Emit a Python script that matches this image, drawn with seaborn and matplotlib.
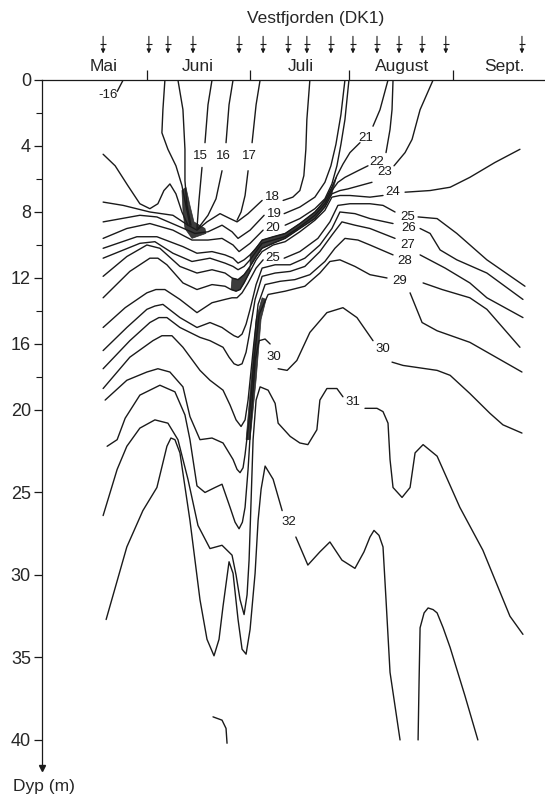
import pandas as pd
import seaborn as sns
import matplotlib.pyplot as plt

# Vestfjorden (DK1) - isohaliner. x = dager etter 1. mai, y = dyp (m)
months = ["Mai", "Juni", "Juli", "August", "Sept."]
month_pos = [18.6, 46.7, 77.5, 107.8, 138.6]
month_edges = [31.4, 62.3, 91.9, 123.1]
sample_days = [18.3, 32.0, 37.7, 45.2, 59.0, 66.2, 73.7, 79.3, 86.5,
               93.1, 100.3, 106.9, 113.8, 120.9, 143.7]
depth_ticks = [0, 4, 8, 12, 16, 20, 25, 30, 35, 40]
depth_minor = [2, 6, 10, 14, 18]

# isolinjer som lister av (dag, dyp)
iso16_top = [(24.3, 0), (22.5, 0.7)]
iso_t1 = [(36.8, 0), (36.2, 1.8), (35.9, 3.2), (37.7, 4.2), (40.1, 5.2), (41.9, 6.4),
          (43.1, 7.6), (44.3, 8.8)]
iso_t2 = [(40.7, 0), (42.2, 1.8), (42.8, 4.2), (42.8, 6.1), (43.4, 7.6), (44.6, 8.8)]
iso15_a = [(50.9, 0), (49.7, 1.5), (48.8, 3.8)]
iso15_b = [(47.9, 5.3), (47.0, 7.3), (46.4, 9.0)]
iso16_a = [(57.2, 0), (56.0, 1.5), (55.1, 3.8)]
iso16_b = [(53.9, 5.5), (52.1, 7.2), (49.7, 8.2), (46.7, 9.0)]
iso17_a = [(65.3, 0), (64.1, 1.5), (62.9, 3.8)]
iso17_b = [(61.7, 5.5), (60.8, 7.0), (59.6, 8.0), (58.4, 8.5)]
iso17_left = [(18.3, 4.5), (21.9, 5.2), (25.7, 6.4), (29.3, 7.5), (32.3, 7.8), (34.7, 7.5),
              (36.5, 6.7), (38.3, 6.3), (40.1, 6.9), (41.9, 8.0), (43.7, 8.8)]

iso18_a = [(18.3, 7.4), (24.3, 7.6), (32.3, 8.0), (39.2, 8.2), (43.7, 8.8), (46.4, 9.1),
           (49.4, 8.6), (53.3, 8.1), (56.3, 8.4), (58.4, 8.6), (61.7, 8.1), (65.9, 7.3)]
iso18_b = [(72.2, 7.3), (75.1, 7.1), (77.2, 6.7), (78.4, 5.8), (79.0, 4.2), (79.3, 2.4), (80.2, 0)]
iso19_a = [(18.3, 8.6), (29.3, 8.2), (34.4, 8.3), (41.3, 8.9), (45.8, 9.3), (49.7, 9.2),
           (53.9, 8.8), (56.9, 9.2), (58.7, 9.6), (62.3, 9.1), (66.5, 8.2)]
iso19_b = [(72.5, 8.1), (77.2, 7.7), (81.7, 7.1), (84.7, 6.2), (86.5, 5.2), (88.0, 3.9),
           (89.5, 2.1), (90.7, 0)]
iso20_a = [(18.3, 9.6), (25.4, 9.0), (32.3, 8.7), (39.2, 9.1), (44.9, 9.7), (49.7, 9.7),
           (53.9, 9.6), (57.2, 10.0), (59.0, 10.4), (62.3, 9.9), (66.2, 9.1)]
iso20_b = [(72.8, 8.8), (77.2, 8.4), (81.7, 7.8), (84.7, 7.2), (86.8, 6.3), (88.3, 5.2),
           (89.5, 3.9), (90.7, 2.4), (91.9, 0)]
iso21_a = [(18.3, 10.2), (28.4, 9.5), (34.4, 9.5), (42.2, 10.1), (46.4, 10.5), (50.9, 10.4),
           (54.8, 10.6), (57.2, 10.8), (58.7, 11.1), (60.5, 10.9), (62.3, 10.6), (64.1, 10.2),
           (65.9, 9.7), (69.2, 9.5), (72.8, 9.3), (77.2, 8.7), (81.7, 8.0), (84.7, 7.3),
           (86.8, 6.5), (88.3, 5.8), (90.1, 5.1), (92.2, 4.4), (95.2, 3.8)]
iso21_b = [(99.1, 2.8), (101.2, 1.8), (103.6, 0)]
iso22_a = [(18.3, 10.8), (29.3, 9.9), (33.8, 9.8), (39.2, 10.5), (44.9, 11.0), (50.3, 10.8),
           (54.8, 11.1), (57.2, 11.3), (58.7, 11.5), (60.5, 11.3), (62.3, 10.9), (64.1, 10.4),
           (65.9, 9.9), (69.2, 9.7), (72.8, 9.5), (77.2, 8.9), (81.7, 8.2), (84.7, 7.5),
           (86.8, 6.7), (88.6, 6.2), (90.7, 5.9), (94.6, 5.5), (97.6, 5.2)]
iso22_b = [(103.0, 4.4), (104.2, 3.0), (104.8, 1.8), (105.1, 0)]
iso23_a = [(18.3, 11.9), (25.4, 10.7), (31.4, 10.0), (35.3, 10.2), (41.3, 11.3), (46.4, 11.7),
           (50.9, 11.5), (54.8, 11.7), (56.9, 12.0), (58.7, 12.1), (60.5, 11.8), (62.3, 11.3),
           (64.1, 10.7), (65.9, 10.2), (69.2, 9.9), (72.8, 9.6), (77.2, 9.0), (81.7, 8.4),
           (84.7, 7.7), (86.8, 6.9), (89.2, 6.7), (91.6, 6.6), (95.2, 6.4), (98.8, 6.2)]
iso23_b = [(105.4, 5.2), (108.7, 4.4), (110.8, 3.6), (113.2, 1.8), (117.1, 0)]
iso24_a = [(18.3, 13.2), (26.3, 11.6), (32.3, 10.8), (34.7, 10.8), (37.4, 11.2), (42.2, 12.3),
           (46.4, 12.7), (50.9, 12.4), (54.8, 12.5), (56.6, 12.7), (58.1, 12.8), (59.3, 12.7),
           (60.5, 12.3), (62.3, 11.6), (64.1, 10.9), (65.9, 10.4), (69.2, 10.0), (72.8, 9.8),
           (77.2, 9.2), (81.7, 8.5), (84.7, 7.9), (86.8, 7.1), (89.2, 7.0), (92.2, 7.0),
           (98.2, 7.1), (102.1, 7.0)]
iso24_b = [(108.7, 6.8), (116.2, 6.7), (122.2, 6.5), (128.1, 5.9), (135.6, 5.0), (143.1, 4.2)]
iso25_a = [(18.3, 15.0), (24.9, 13.8), (31.4, 12.9), (34.1, 12.7), (36.8, 12.7), (41.3, 13.3),
           (46.4, 14.1), (50.9, 13.5), (54.8, 13.3), (56.9, 13.2), (58.4, 13.2), (59.9, 12.9),
           (61.7, 12.3), (64.1, 11.4), (66.2, 10.9)]
iso25_b = [(72.5, 10.8), (77.2, 10.4), (82.6, 9.6), (86.2, 8.6), (88.6, 7.6), (92.2, 7.5),
           (98.2, 7.5), (102.1, 7.6), (105.7, 8.0)]
iso25_c = [(112.6, 8.3), (118.3, 8.4), (124.2, 9.3), (133.2, 10.9), (144.6, 12.5)]
iso26_a = [(18.3, 16.4), (25.4, 15.0), (31.4, 13.9), (33.8, 13.7), (36.2, 13.6), (41.3, 14.4),
           (46.4, 15.0), (50.3, 14.7), (53.9, 15.0), (56.0, 15.3), (57.5, 15.5), (58.7, 15.6),
           (59.9, 15.4), (61.1, 14.8), (62.3, 13.9), (64.1, 12.4), (65.9, 11.4), (69.8, 11.2),
           (74.3, 11.2), (78.7, 10.8), (83.2, 10.0), (86.8, 9.0), (89.2, 8.0), (93.7, 8.1),
           (98.2, 8.4), (105.1, 8.7)]
iso26_b = [(113.2, 9.0), (116.2, 9.3), (119.2, 10.3), (124.2, 10.9), (133.2, 11.7), (144.0, 13.3)]
iso27_a = [(18.3, 17.5), (26.3, 15.8), (32.3, 14.7), (35.0, 14.4), (37.4, 14.4), (41.3, 15.0),
           (47.3, 15.6), (50.3, 15.8), (54.2, 16.2), (56.0, 16.8), (57.5, 17.2), (58.7, 17.3),
           (59.9, 17.2), (61.1, 16.5), (62.0, 15.5), (63.8, 13.3), (65.9, 11.9), (69.8, 11.7),
           (74.3, 11.6), (78.7, 11.3), (83.2, 10.4), (86.8, 9.4), (89.8, 8.6), (93.7, 8.8),
           (98.2, 9.0), (105.7, 9.6)]
iso27_b = [(113.2, 10.6), (120.7, 11.4), (128.1, 12.3), (133.2, 13.2), (144.0, 14.4)]
iso28_a = [(18.3, 18.7), (26.3, 16.8), (33.2, 15.8), (35.9, 15.5), (38.9, 15.5), (42.2, 16.2),
           (47.3, 17.6), (50.3, 18.2), (54.2, 18.8), (56.3, 19.7), (58.1, 20.6), (59.6, 21.0),
           (60.8, 20.6), (61.7, 19.4), (63.2, 16.4), (64.7, 13.6), (66.8, 12.4), (71.3, 12.2),
           (75.7, 12.1), (80.2, 11.8), (84.7, 11.0), (87.7, 10.2), (90.7, 9.6), (94.6, 9.7),
           (98.2, 10.0), (105.1, 10.6)]
iso28_b = [(114.1, 12.3), (119.8, 12.7), (128.1, 13.2), (133.2, 13.9), (143.1, 16.2)]
iso29_a = [(18.9, 19.4), (25.4, 18.2), (31.4, 17.7), (34.7, 17.5), (38.3, 17.7), (42.2, 18.6),
           (44.3, 20.4), (47.3, 21.8), (50.9, 21.7), (54.2, 22.0), (57.2, 23.0), (58.4, 23.6),
           (59.3, 23.8), (60.2, 23.5), (60.8, 22.7), (62.0, 20.6), (63.5, 16.9), (65.0, 14.2),
           (67.7, 13.0), (72.8, 12.8), (78.7, 12.5), (83.2, 11.7), (86.2, 11.0), (89.2, 10.9),
           (93.7, 11.3), (98.2, 11.8), (103.3, 12.0)]
iso29_b = [(110.2, 12.9), (113.8, 14.7), (118.3, 15.2), (128.1, 15.9), (143.7, 17.7)]
iso30_a = [(19.5, 22.2), (22.5, 21.8), (24.9, 20.5), (29.3, 19.1), (35.3, 18.5), (39.8, 18.9),
           (42.8, 20.3), (44.3, 21.8), (46.4, 24.6), (48.8, 25.0), (51.8, 24.7), (53.9, 24.5),
           (56.3, 25.9), (57.8, 26.8), (59.0, 27.2), (60.0, 26.8), (60.8, 25.9), (61.7, 23.6),
           (62.6, 20.6), (63.8, 17.0), (65.0, 15.8), (66.8, 15.7), (68.3, 16.0)]
iso30_b = [(70.7, 17.5), (73.4, 17.6), (76.3, 17.0), (80.2, 15.3), (85.3, 14.1), (90.1, 13.8),
           (94.3, 14.4), (99.1, 15.8)]
iso30_c = [(104.8, 17.1), (108.1, 17.3), (118.3, 17.6), (122.2, 17.9), (128.1, 19.0),
           (134.1, 20.2), (138.0, 20.9), (143.7, 21.4)]
iso31_a = [(18.3, 26.4), (22.5, 23.6), (25.4, 22.2), (29.3, 21.1), (33.8, 20.6), (37.7, 20.8),
           (40.7, 21.8), (43.7, 24.2), (46.7, 27.0), (50.3, 28.4), (53.9, 28.2), (56.9, 28.8),
           (58.1, 30.0), (59.3, 31.5), (60.5, 32.4), (61.4, 31.2), (62.0, 29.1), (62.6, 25.5),
           (63.2, 21.8), (64.1, 19.4), (65.3, 18.6), (67.7, 18.8), (69.8, 19.6), (70.7, 20.8),
           (74.3, 21.6), (77.2, 22.0), (79.6, 22.1), (82.3, 21.2), (83.2, 19.4), (85.3, 18.7),
           (88.3, 18.7), (90.1, 19.2)]
iso31_b = [(96.7, 19.9), (100.3, 19.9), (102.1, 20.1), (103.6, 20.8), (104.2, 23.0),
           (105.1, 24.7), (107.8, 25.3), (110.2, 24.7), (111.7, 22.6), (114.1, 22.1),
           (118.3, 22.8), (125.1, 25.9), (132.0, 28.5), (140.1, 32.5), (144.0, 33.6)]
iso32_a = [(19.2, 32.7), (25.4, 28.3), (30.2, 26.1), (34.4, 24.7), (36.2, 23.2), (37.4, 22.2),
           (38.6, 21.7), (39.8, 21.8), (41.3, 22.6), (44.3, 26.7), (47.3, 31.5), (49.4, 33.9),
           (51.5, 34.9), (53.0, 33.9), (54.2, 31.9), (56.0, 29.2), (57.2, 29.9), (58.7, 32.7),
           (59.9, 34.5), (61.1, 34.8), (62.3, 33.3), (63.8, 29.9), (64.7, 26.7), (65.6, 24.8),
           (66.8, 23.4), (69.2, 24.2), (71.9, 26.1)]
iso32_b = [(76.0, 27.7), (79.6, 29.4), (83.2, 28.6), (86.2, 28.0), (89.8, 29.1), (93.7, 29.6),
           (96.4, 28.6), (98.2, 27.7), (99.4, 27.3), (100.9, 27.6), (102.1, 28.3), (103.0, 31.5),
           (104.2, 35.9), (107.2, 40.0)]
iso33 = [(112.6, 40.0), (112.9, 36.4), (113.2, 33.2), (114.4, 32.3), (115.6, 32.0),
         (117.1, 32.1), (118.3, 32.3), (120.1, 33.2), (122.2, 34.4), (126.6, 37.3), (130.5, 40.0)]
iso_bottom = [(51.2, 38.6), (53.9, 38.8), (55.1, 39.3), (55.4, 40.2)]

# skraverte (tette) felt
shade_knot = [(41.9, 6.7), (43.1, 6.5), (44.3, 7.6), (45.5, 8.6), (48.8, 9.0), (49.1, 9.3),
              (44.9, 9.6), (42.8, 9.0), (42.2, 7.9)]
shade_front = [(62.3, 10.6), (65.9, 9.7), (69.2, 9.5), (72.8, 9.3), (77.2, 8.7), (81.7, 8.0),
               (84.7, 7.3), (86.8, 6.5), (88.3, 5.8), (86.8, 6.9), (84.7, 7.7), (81.7, 8.4),
               (77.2, 9.0), (72.8, 9.6), (69.2, 9.9), (65.9, 10.2), (62.3, 11.3)]
shade_band = [(61.1, 21.8), (62.3, 21.8), (64.1, 18.2), (65.6, 14.5), (67.1, 13.3),
              (65.9, 13.2), (64.1, 14.5), (62.6, 18.2)]
shade_trough = [(56.9, 12.0), (58.7, 12.1), (60.5, 11.8), (62.3, 11.3), (62.3, 11.6),
                (60.5, 12.3), (59.3, 12.7), (58.1, 12.8), (56.6, 12.7)]

# etiketter: (tekst, dag, dyp)
labels = [("-16", 19.8, 0.9), ("15", 47.3, 4.6), ("16", 54.2, 4.6), ("17", 62.0, 4.6),
          ("18", 68.9, 7.1), ("19", 69.5, 8.1), ("20", 69.2, 9.0), ("25", 69.2, 10.8),
          ("30", 69.5, 16.8), ("21", 97.0, 3.5), ("22", 100.3, 5.0), ("23", 102.7, 5.6),
          ("24", 105.1, 6.8), ("25", 109.6, 8.3), ("26", 109.9, 9.0), ("27", 109.6, 10.0),
          ("28", 108.7, 11.0), ("29", 107.2, 12.2), ("30", 102.1, 16.3), ("31", 93.1, 19.5),
          ("32", 74.0, 26.8)]

segments = {
    "16top": iso16_top, "t1": iso_t1, "t2": iso_t2, "15a": iso15_a, "15b": iso15_b,
    "16a": iso16_a, "16b": iso16_b, "17a": iso17_a, "17b": iso17_b, "17l": iso17_left,
    "18a": iso18_a, "18b": iso18_b, "19a": iso19_a, "19b": iso19_b, "20a": iso20_a,
    "20b": iso20_b, "21a": iso21_a, "21b": iso21_b, "22a": iso22_a, "22b": iso22_b,
    "23a": iso23_a, "23b": iso23_b, "24a": iso24_a, "24b": iso24_b, "25a": iso25_a,
    "25b": iso25_b, "25c": iso25_c, "26a": iso26_a, "26b": iso26_b, "27a": iso27_a,
    "27b": iso27_b, "28a": iso28_a, "28b": iso28_b, "29a": iso29_a, "29b": iso29_b,
    "30a": iso30_a, "30b": iso30_b, "30c": iso30_c, "31a": iso31_a, "31b": iso31_b,
    "32a": iso32_a, "32b": iso32_b, "33": iso33, "bot": iso_bottom,
}

rows = []
for name, pts in segments.items():
    for d, z in pts:
        rows.append((name, d, z))
df = pd.DataFrame(rows, columns=["seg", "dag", "dyp"])

sns.set_theme(style="white")
plt.rcParams['font.family'] = ['Liberation Sans', 'DejaVu Sans']
ink = "#1a1a1a"

fig = plt.figure(figsize=(5.45, 7.98), dpi=100)
ax = fig.add_axes([42 / 545, 1 - 768 / 798, (545 - 42) / 545, (768 - 80) / 798])

sns.lineplot(data=df, x="dag", y="dyp", units="seg", estimator=None, sort=False,
             color=ink, lw=1.0, ax=ax, legend=False)
for ln in ax.get_lines():
    ln.set_solid_joinstyle("round")
    ln.set_solid_capstyle("round")

for poly in [shade_knot, shade_front, shade_band, shade_trough]:
    ax.fill([p[0] for p in poly], [p[1] for p in poly], color=ink, lw=0.5, alpha=0.85)

for txt, d, z in labels:
    ax.text(d, z, txt, ha="center", va="center", fontsize=9.5, color=ink)

ax.set_xlim(0, 150.6)
ax.set_ylim(41.7, 0)
ax.set_xlabel("")
ax.set_ylabel("")

for s in ["bottom", "right"]:
    ax.spines[s].set_visible(False)
for s in ["top", "left"]:
    ax.spines[s].set_color(ink)
    ax.spines[s].set_linewidth(0.9)

ax.set_yticks(depth_ticks)
ax.set_yticks(depth_minor, minor=True)
ax.tick_params(axis="y", which="major", left=True, length=6, width=0.9, direction="out",
               labelsize=13, pad=2, color=ink)
ax.tick_params(axis="y", which="minor", left=True, length=4, width=0.8, direction="out",
               color=ink)

ax.xaxis.set_ticks_position("top")
ax.set_xticks(month_edges)
ax.set_xticklabels([])
ax.tick_params(axis="x", which="major", top=True, bottom=False, length=7, width=0.9,
               direction="out", color=ink)

tr = ax.get_xaxis_transform()
for m, p in zip(months, month_pos):
    ax.text(p, 1.0203, m, transform=tr, ha="center", va="center", fontsize=12.5)

for d in sample_days:
    ax.annotate("", xy=(d, 1.0385), xytext=(d, 1.0635), xycoords=tr, textcoords=tr,
                arrowprops=dict(arrowstyle="-|>", lw=0.8, color=ink,
                                mutation_scale=6, shrinkA=0, shrinkB=0))
    ax.plot([d], [1.052], marker="_", ms=4, mew=0.8, color=ink, transform=tr,
            clip_on=False)

ax.text(82.0, 1.0887, "Vestfjorden (DK1)", transform=tr, ha="center", va="center",
        fontsize=12.5)

# pil nederst paa dybdeaksen
ax.plot([0], [41.7], marker="v", ms=5, color=ink, clip_on=False)
fig.text(13 / 545, 1 - 787 / 798, "Dyp (m)", ha="left", va="center", fontsize=12.5)

fig.savefig("out.png", dpi=100)
